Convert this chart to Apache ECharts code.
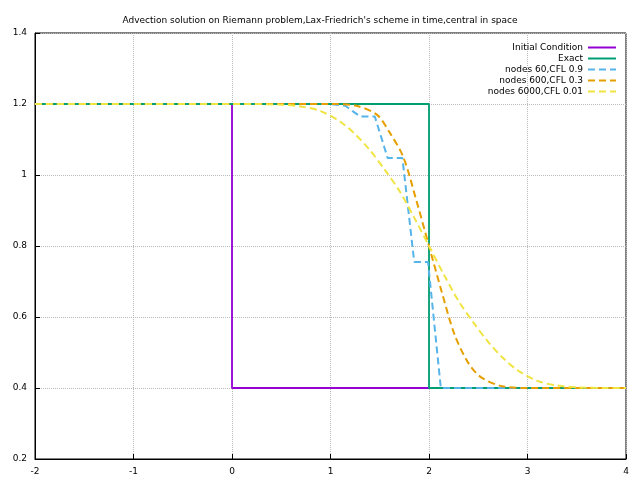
<!DOCTYPE html>
<html><head><meta charset="utf-8">
<script src="https://cdn.jsdelivr.net/npm/echarts@6/dist/echarts.min.js"></script>
<style>html,body{margin:0;padding:0;background:#fff}#c{width:640px;height:480px}</style>
</head><body><div id="c"></div>
<script>
const initX=[-2,0,0,4], initY=[1.2,1.2,0.4,0.4];
const exactX=[-2,2,2,4], exactY=[1.2,1.2,0.4,0.4];
const n60X=[-2,1.0,1.15,1.3,1.45,1.58,1.73,1.85,1.99,2.12,4];
const n60Y=[1.2,1.2,1.195,1.165,1.165,1.048,1.048,0.755,0.755,0.4,0.4];
const n600X=[-2,1.0,1.26,1.47,1.6,1.74,1.87,2.0,2.13,2.26,2.4,2.53,2.74,3.0,4];
const n600Y=[1.2,1.2,1.195,1.17,1.12,1.05,0.93,0.8,0.67,0.55,0.47,0.43,0.405,0.4,0.4];
const n6000X=[-2,0.2,0.5,0.7,0.9,1.1,1.25,1.4,1.55,1.7,1.85,2.0,2.15,2.3,2.45,2.6,2.75,2.9,3.1,3.3,3.5,3.8,4];
const n6000Y=[1.2,1.2,1.198,1.193,1.18,1.15,1.115,1.07,1.015,0.955,0.88,0.8,0.72,0.645,0.585,0.53,0.485,0.45,0.42,0.407,0.402,0.4,0.4];
const names=['Initial Condition','Exact','nodes 60,CFL 0.9','nodes 600,CFL 0.3','nodes 6000,CFL 0.01'];
const colors=['#9400d3','#009e73','#56b4e9','#e69f00','#f0e442'];
const xs=[initX,exactX,n60X,n600X,n6000X], ys=[initY,exactY,n60Y,n600Y,n6000Y];
const zip=(a,b)=>a.map((v,i)=>[v,b[i]]);
const font='DejaVu Sans';
const chart=echarts.init(document.getElementById('c'));
chart.setOption({
  animation:false,
  title:{text:"Advection solution on Riemann problem,Lax-Friedrich's scheme in time,central in space",left:'center',top:11,textStyle:{fontSize:9,fontWeight:'normal',fontFamily:font,color:'#000'}},
  grid:{left:35,right:14,top:33,bottom:21,show:true,borderColor:'#000',borderWidth:1},
  legend:{orient:'vertical',right:18,top:38,align:'right',itemWidth:28,itemHeight:10,itemGap:2,
    itemStyle:{opacity:0},
    textStyle:{fontSize:9,fontFamily:font,color:'#000'},data:names},
  xAxis:{type:'value',min:-2,max:4,interval:1,
    axisLine:{onZero:false,lineStyle:{color:'#000'}},axisTick:{inside:true,length:5,lineStyle:{color:'#000'}},
    axisLabel:{fontSize:9,fontFamily:font,color:'#000'},
    splitLine:{lineStyle:{type:'dotted',color:'#bbb'}}},
  yAxis:{type:'value',min:0.2,max:1.4,interval:0.2,
    axisLine:{onZero:false,lineStyle:{color:'#000'}},axisTick:{inside:true,length:5,lineStyle:{color:'#000'}},
    axisLabel:{fontSize:9,fontFamily:font,color:'#000',formatter:v=>String(+v.toFixed(1))},
    splitLine:{lineStyle:{type:'dotted',color:'#bbb'}}},
  series:names.map((n,i)=>({name:n,type:'line',data:zip(xs[i],ys[i]),showSymbol:false,symbol:'none',
    smooth:i>=3?0.3:false,
    lineStyle:{color:colors[i],width:i<2?1.8:2,type:i<2?'solid':[7,4]},itemStyle:{color:colors[i]}}))
});
</script></body></html>
